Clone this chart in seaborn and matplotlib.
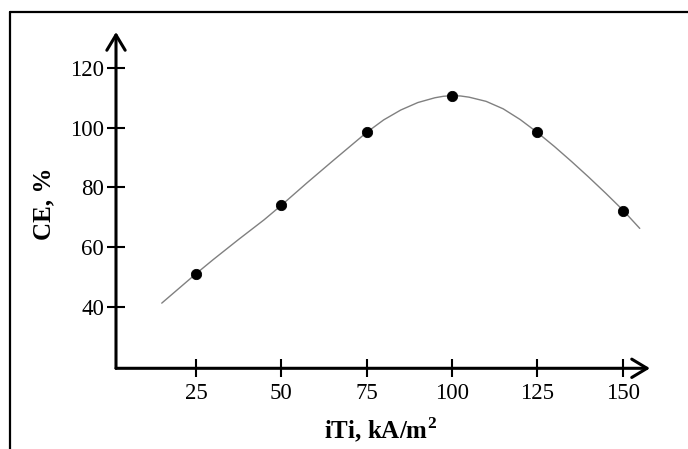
import numpy as np
import pandas as pd
import seaborn as sns
import matplotlib.pyplot as plt
from matplotlib.lines import Line2D

# measured points
current = [25, 50, 75, 100, 125, 150]
ce = [51.1, 74.0, 98.6, 110.7, 98.6, 72.1]

# fitted curve
curve_x = [15, 20, 25, 30, 37.5, 45, 50, 57.5, 65, 70, 75, 80, 85, 90, 95, 97.5, 100,
           102.5, 105, 110, 115, 120, 125, 130, 135, 140, 145, 150, 155]
curve_y = [41.3, 46.2, 51.1, 55.8, 62.6, 69.2, 74.0, 81.5, 88.8, 93.6, 98.4, 102.6, 105.9,
           108.4, 110.0, 110.5, 110.7, 110.6, 110.2, 108.8, 106.3, 102.7, 98.4, 93.7,
           88.7, 83.5, 78.1, 72.5, 66.3]

xticks = [25, 50, 75, 100, 125, 150]
yticks = [40, 60, 80, 100, 120]

x_label = "iTi, kA/m$^\\mathbf{2}$"
y_label = "CE, %"

sns.set_theme(style="white")
plt.rcParams['font.family'] = ['Liberation Serif', 'DejaVu Serif']
plt.rcParams['mathtext.fontset'] = 'custom'
plt.rcParams['mathtext.rm'] = 'Liberation Serif'
plt.rcParams['mathtext.bf'] = 'Liberation Serif:bold'
plt.rcParams['text.color'] = 'black'
plt.rcParams['axes.labelcolor'] = 'black'

fig = plt.figure(figsize=(6.88, 4.49), dpi=100)
W, H = 688, 449
ax_l, ax_r = 116, 650
ax_b, ax_t = 368.3, 32
ax = fig.add_axes([ax_l / W, (H - ax_b) / H, (ax_r - ax_l) / W, (ax_b - ax_t) / H])

curve_df = pd.DataFrame({"x": curve_x, "y": curve_y})
pts_df = pd.DataFrame({"x": current, "y": ce})

sns.lineplot(data=curve_df, x="x", y="y", ax=ax, color="#808080", lw=1.0, sort=False)
sns.scatterplot(data=pts_df, x="x", y="y", ax=ax, color="black", s=55, edgecolor="black", zorder=3)

ax.set_xlim(1.6, 158)
ax.set_ylim(19.5, 132)
ax.set_xticks(xticks)
ax.set_yticks(yticks)
ax.set_xticklabels([str(t) for t in xticks])
ax.set_yticklabels([str(t) for t in yticks])

for s in ax.spines.values():
    s.set_visible(False)

ax.tick_params(axis='both', which='both', direction='inout', length=13, width=1.5,
               colors='black', labelsize=16.5, bottom=True, left=True)
ax.tick_params(axis='x', pad=4)
ax.tick_params(axis='y', pad=2)

arrow = dict(arrowstyle='->, head_length=0.5, head_width=0.3', lw=2.2, color='black',
             shrinkA=0, shrinkB=0, mutation_scale=22)
ax.annotate('', xy=(1, 0), xytext=(0, 0), xycoords='axes fraction',
            arrowprops=arrow, annotation_clip=False)
ax.annotate('', xy=(0, 1), xytext=(0, 0), xycoords='axes fraction',
            arrowprops=arrow, annotation_clip=False)

ax.set_xlabel(x_label, fontsize=18, fontweight='bold', va='center', color='black')
ax.set_ylabel(y_label, fontsize=18, fontweight='bold', va='center', color='black')
ax.xaxis.set_label_coords((381 - ax_l) / (ax_r - ax_l), (ax_b - 430) / (ax_b - ax_t))
ax.yaxis.set_label_coords((44 - ax_l) / (ax_r - ax_l), (ax_b - 203.5) / (ax_b - ax_t))

# outer frame (top and left edges)
fig.add_artist(Line2D([10 / W, 1], [1 - 12 / H, 1 - 12 / H], transform=fig.transFigure, color='black', lw=1.6))
fig.add_artist(Line2D([10 / W, 10 / W], [0, 1 - 12 / H], transform=fig.transFigure, color='black', lw=1.6))

fig.savefig("out.png", dpi=100)
